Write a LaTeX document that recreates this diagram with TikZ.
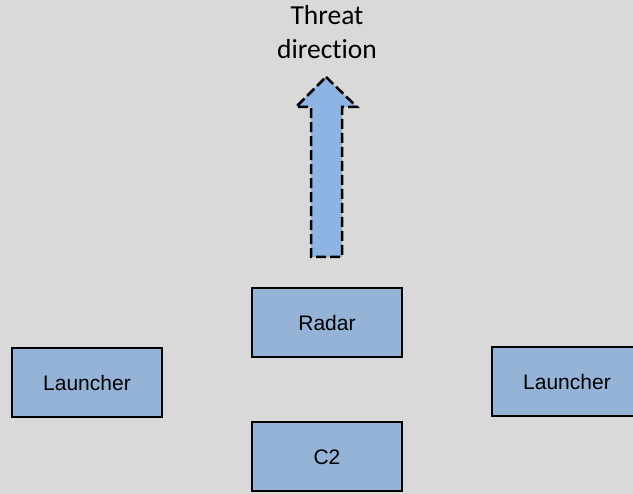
\documentclass[tikz,border=0pt]{standalone}
\usepackage{fontspec}
\setmainfont{Liberation Sans}
\newfontfamily\labelfont[Ligatures=NoCommon]{Carlito}
\usetikzlibrary{positioning}

\definecolor{bgGray}{HTML}{D9D9D9}
\definecolor{boxBlue}{HTML}{95B3D7}
\definecolor{arrowBlue}{HTML}{8DB4E2}

\tikzset{
  unitbox/.style={draw=black, line width=2pt, fill=boxBlue, minimum width=150pt, minimum height=69pt, inner sep=0pt, font=\fontsize{21}{25}\selectfont},
  threatarrow/.style={draw=black, line width=2.5pt, fill=arrowBlue, dash pattern=on 10pt off 4pt, line join=miter}
}

\begin{document}
\begin{tikzpicture}[x=1pt,y=-1pt]
\useasboundingbox[fill=bgGray] (0,0) rectangle (633,494);
\clip (0,0) rectangle (633,494);

\node[align=center, font=\labelfont\fontsize{27.5}{33.5}\selectfont] (threat) at (327,32) {Threat\\direction};

\draw[threatarrow] (326,77) -- (357,107) -- (342,107) -- (342,257) -- (311,257) -- (311,107) -- (296,107) -- cycle;

\node[unitbox] (radar) at (327,322.5) {Radar};
\node[unitbox] (c2) at (327,457) {C2};
\node[unitbox] (launcherL) at (87,382.5) {Launcher};
\node[unitbox] (launcherR) at (567,381.5) {Launcher};
\end{tikzpicture}
\end{document}
